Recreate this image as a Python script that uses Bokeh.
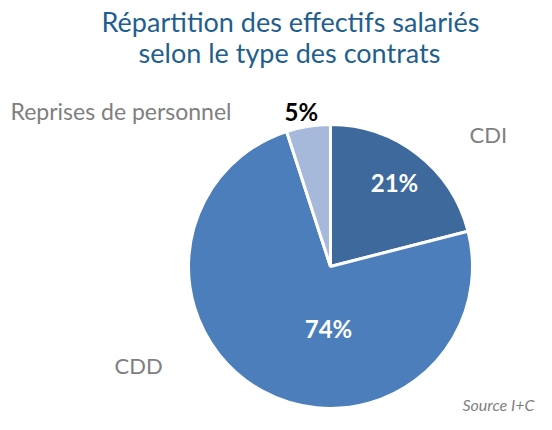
import math
from bokeh.plotting import figure
from bokeh.models import ColumnDataSource, Range1d
from bokeh.core.properties import value
from bokeh.embed import file_html
from bokeh.resources import INLINE

# ---- data ----
categories = ["CDI", "CDD", "Reprises de personnel"]
shares = [21, 74, 5]
pct_labels = ["21%", "74%", "5%"]
colors = ["#3D699D", "#4B7EBB", "#A7B9DA"]
title_lines = ["Répartition des effectifs salariés", "selon le type des contrats"]
source_note = "Source I+C"

W, H = 536, 414
p = figure(width=W, height=H, output_backend="svg", toolbar_location=None,
           x_range=Range1d(0, W), y_range=Range1d(0, H),
           min_border=0, outline_line_color=None)
p.axis.visible = False
p.grid.visible = False
p.background_fill_color = "white"

cx, cy, r = 330, 148, 142
total = sum(shares)
starts, ends = [], []
cum = 0
for s in shares:
    a0 = math.radians(90 - (cum + s) / total * 360)
    a1 = math.radians(90 - cum / total * 360)
    starts.append(a0)
    ends.append(a1)
    cum += s

src = ColumnDataSource(dict(start=starts, end=ends, color=colors, cat=categories))
p.wedge(x=cx, y=cy, radius=r, start_angle="start", end_angle="end",
        fill_color="color", line_color="white", line_width=3, source=src,
        direction="anticlock")

font = value("Lato")
TITLE = "#1F5F8F"
GREY = "#7F7F7F"
# title
p.text(x=[290], y=[393], text=[title_lines[0]], text_font=font, text_font_size="27px",
       text_color=TITLE, text_align="center", text_baseline="alphabetic")
p.text(x=[289], y=[362], text=[title_lines[1]], text_font=font, text_font_size="27px",
       text_color=TITLE, text_align="center", text_baseline="alphabetic")

# category labels
p.text(x=[469], y=[280], text=[categories[0]], text_font=font, text_font_size="22px",
       text_color=GREY, text_align="left", text_baseline="alphabetic")
p.text(x=[114], y=[49], text=[categories[1]], text_font=font, text_font_size="22px",
       text_color=GREY, text_align="left", text_baseline="alphabetic")
p.text(x=[10], y=[304], text=[categories[2]], text_font=font, text_font_size="23px",
       text_color=GREY, text_align="left", text_baseline="alphabetic")

# percentages
p.text(x=[394], y=[232], text=[pct_labels[0]], text_font=font, text_font_size="24px",
       text_font_style="bold", text_color="white", text_align="center", text_baseline="alphabetic")
p.text(x=[328], y=[86], text=[pct_labels[1]], text_font=font, text_font_size="24px",
       text_font_style="bold", text_color="white", text_align="center", text_baseline="alphabetic")
p.text(x=[284], y=[303], text=[pct_labels[2]], text_font=font, text_font_size="24px",
       text_font_style="bold", text_color="black", text_align="left", text_baseline="alphabetic")

p.text(x=[534], y=[10], text=[source_note], text_font=font, text_font_size="16px",
       text_font_style="italic", text_color=GREY, text_align="right",
       text_baseline="alphabetic")

open("out.html", "w").write(file_html(p, INLINE))
